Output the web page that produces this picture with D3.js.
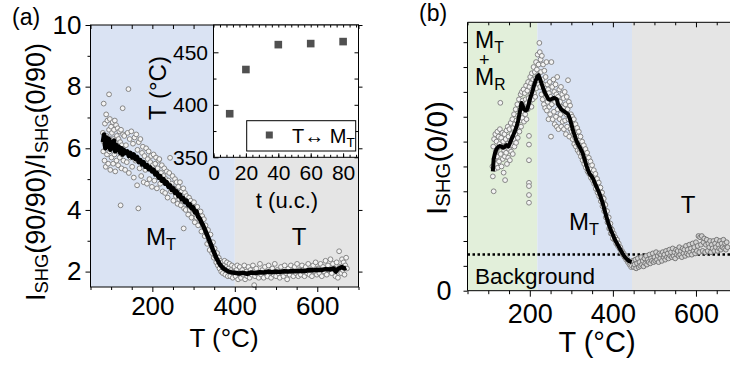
<!DOCTYPE html>
<html><head><meta charset="utf-8">
<script src="https://cdn.jsdelivr.net/npm/d3@7"></script>
<style>
body{margin:0;background:#fff}
svg{display:block}
text{font-family:"Liberation Sans",Arial,sans-serif;fill:#000}
</style>
</head><body>
<svg id="c" width="730" height="365"></svg>
<script>
// ---------------- DATA ----------------
// Panel (a): SHG ratio vs temperature (scatter + smoothed line)
const aScatter=[[80,6.5],[81,5.9],[82,7.45],[83,6.2],[84,5.6],[85,6.8],[86,6.1],[87,5.4],[88,7.1],[89,6.4],[90,5.8],[91,6.9],[92,6.2],[93,5.5],[95,7.75],[95,6.6],[96,5.9],[97,6.95],[98,5.3],[99,6.3],[100,6.7],[101,5.7],[102,6.5],[103,6.0],[104,6.85],[105,5.5],[106,6.3],[107,6.6],[108,5.8],[109,6.9],[110,5.25],[111,6.2],[112,6.75],[113,5.6],[114,6.4],[115,6.0],[116,6.65],[117,5.45],[118,6.3],[119,5.9],[120,6.55],[121,5.7],[122,6.2],[123,4.15],[124,6.6],[125,5.35],[126,6.1],[127,5.8],[128,7.3],[129,6.45],[130,5.6],
[132,6.4],[134,5.3],[136,6.1],[138,5.55],[140,6.5],[142,7.92],[143,5.2],[145,6.3],[147,5.7],[149,6.55],[151,5.4],[153,6.15],[155,5.05],[157,6.35],[159,5.6],[161,6.45],[163,4.8],[164,5.95],[166,4.05],[167,6.2],[169,5.35],[171,6.3],[173,5.1],[175,5.85],[177,6.05],[179,4.9],[181,5.75],[183,5.3],[185,6.0],[187,4.85],[189,5.65],[191,5.9],[193,5.0],[195,5.55],[197,5.75],[199,4.75],[201,5.45],[203,5.8],[205,4.95],[207,5.5],[209,5.7],[211,4.7],[213,5.35],[215,5.6],[217,5.65],[219,4.85],[221,5.2],[223,5.45],[225,4.6],[227,5.1],[229,5.35],[231,4.55],[233,5.0],[235,5.25],[237,4.4],[239,4.95],[241,5.2],[243,5.69],[245,4.6],[247,4.85],[249,5.1],[251,4.3],[253,4.7],[255,5.0],[257,4.45],[259,4.9],[261,4.2],
[263,4.75],[265,4.35],[267,4.9],[269,4.15],[271,4.6],[273,4.3],[275,4.7],[276,3.4],[277,4.05],[279,4.55],[281,4.0],[283,4.45],[285,4.25],[287,3.85],[289,4.4],[291,4.0],[293,4.3],[295,3.75],[297,4.2],[299,3.9],[301,4.25],[303,3.6],[305,4.0],[307,3.75],[309,4.1],[311,3.5],[313,3.9],[315,3.65],[317,3.95],[319,3.3],[321,3.8],[323,3.45],[325,3.7],[327,3.15],[329,3.5],[331,3.25],[333,2.9],[335,3.35],[337,3.0],[339,2.7],[341,3.2],[343,2.85],[345,2.6],[347,2.95],[349,2.45],[351,2.75],[353,2.5],[355,2.3],[357,2.6],[359,2.2],[361,2.45],[363,2.1],[365,2.35],[367,2.0],[369,2.3],[371,1.95],[373,2.2],[375,2.35],[377,1.9],[379,2.15],[381,2.3],[383,1.85],[385,2.1],[387,2.25],[389,1.85],[391,2.05],[393,2.2],[395,1.8],[397,2.0],[399,2.15],
[402,1.85],[404,2.05],[406,2.2],[408,1.75],[410,1.95],[412,2.15],[415,1.8],[418,2.05],[420,1.9],[423,2.2],[425,1.75],[428,2.0],[430,1.85],[433,2.15],[436,1.8],[438,2.05],[441,1.9],[444,2.2],[447,1.56],[449,1.85],[452,2.1],[455,1.95],[458,1.8],[461,2.25],[464,1.9],[467,2.05],[470,1.8],[473,2.15],[476,1.95],[479,1.85],[482,2.2],[485,2.0],[488,1.8],[491,2.1],[494,1.9],[497,2.25],[500,1.85],[503,2.05],[506,1.95],[509,1.8],[512,2.15],[515,2.0],[518,1.85],[521,2.2],[524,1.95],[527,1.75],[530,2.1],[533,1.9],[536,2.2],[539,2.0],[542,1.85],[545,2.15],[548,1.95],[551,2.25],[554,1.85],[557,2.05],[560,1.9],[563,2.2],[566,2.0],[569,1.85],[572,2.15],[575,1.95],[578,2.25],[581,1.9],[584,2.05],[587,1.85],[590,2.2],[593,2.0],[596,2.3],[599,1.9],[602,2.1],[605,1.95],[608,2.25],[611,1.85],[614,2.15],[617,2.0],[620,2.35],[623,1.9],[626,2.2],[629,2.05],[632,2.4],[635,1.95],[638,2.25],[641,2.1],[644,1.85],[647,2.3],[650,1.8],[653,2.66],[655,2.15],[658,1.95],[660,2.4],[662,2.05],[664,2.3],[666,1.9],[668,2.2],[670,2.45],[672,2.1]];
const aLine=[[80,6.2],[83,6.45],[86,6.0],[89,6.35],[92,6.05],[95,6.3],[98,5.95],[101,6.2],[104,6.0],[107,6.25],[110,5.9],[113,6.1],[116,5.95],[119,6.05],[122,5.85],[125,6.0],[128,5.8],[131,5.95],[135,5.85],[139,5.9],[143,5.75],[147,5.85],[151,5.7],[155,5.8],[159,5.65],[163,5.72],[167,5.55],[171,5.62],[175,5.48],[179,5.55],[183,5.4],[187,5.45],[191,5.32],[195,5.38],[199,5.25],[203,5.3],[207,5.15],[211,5.2],[215,5.05],[219,5.1],[223,4.95],[227,5.0],[231,4.85],[235,4.9],[239,4.75],[243,4.8],[247,4.65],[251,4.7],[255,4.55],[259,4.6],[263,4.45],[267,4.5],[271,4.35],[275,4.38],[279,4.25],[283,4.3],[287,4.15],[291,4.18],[295,4.05],[299,4.08],[303,3.92],[307,3.95],[311,3.78],[315,3.72],[319,3.6],[323,3.5],[327,3.38],[331,3.25],[335,3.12],[339,2.98],[343,2.85],[347,2.7],[351,2.58],[355,2.45],[359,2.35],[363,2.25],[367,2.18],[371,2.12],[375,2.08],[380,2.04],[385,2.0],[390,1.98],[400,1.96],[410,1.94],[420,1.96],[430,1.93],[440,1.97],[450,1.95],[460,1.98],[470,1.97],[480,2.0],[490,1.98],[500,2.0],[510,1.99],[520,2.01],[530,2.0],[540,2.02],[550,2.01],[560,2.03],[570,2.02],[580,2.05],[590,2.04],[600,2.06],[610,2.05],[620,2.08],[630,2.07],[640,2.1],[645,2.0],[650,2.08],[655,2.12],[660,2.15],[665,2.1],[670,2.13]];
const aRegions=[[50,400],[400,700]];
const aXMajor=[200,400,600], aXMinor=[50,100,150,250,300,350,450,500,550,650,700];
const aYMajor=[2,4,6,8,10], aYMinor=[3,5,7,9];

// Inset: transition temperature vs thickness
const insetThick=[10,20,40,60,80];
const insetTemp=[391.5,433.6,457.3,458.3,460.2];
const insetXMajor=[0,20,40,60,80];
const insetYMajor=[350,400,450], insetYMinor=[375,425];

// Panel (b): SHG(0/0) vs temperature
const bScatter=[[110,5.0],[111,4.6],[112,5.8],[113,4.0],[114,6.1],[115,5.3],[116,4.9],[117,6.3],[118,5.6],[119,5.1],[120,6.0],[121,5.4],[122,6.4],[123,4.95],[124,5.75],[125,6.2],[126,5.2],[127,5.9],[128,6.5],[129,7.56],[130,5.5],[131,6.15],[132,5.0],[133,5.8],[134,6.35],[135,5.3],[136,6.0],[137,4.75],[138,5.65],[139,6.3],[140,5.4],[140.5,4.45],[142,6.1],[143,5.55],[144,6.45],[145,5.1],[146,5.9],[147,6.6],[148,5.35],[149,6.2],[150,5.7],[151,6.5],[152,5.25],[153,6.05],[154,6.75],[155,5.6],[156,6.3],[157,5.85],[158,6.9],[159,5.5],[160,6.55],[161,6.1],[162,7.1],[163,5.8],[164,6.7],[165,6.3],[166,7.3],[167,5.95],[168,6.85],[169,6.45],[170,7.5],[171,6.15],[172,7.05],[173,6.6],[174,7.7],[175,6.4],[176,7.25],[177,6.85],[178,7.9],[179,6.6],[180,7.45],[181,8.0],[182,6.95],[183,7.65],[184,7.2],[185,8.1],[186,6.8],[187,7.5],[188,7.95],[189,7.1],[190,7.7],[191,8.25],[192,6.9],[193,7.55],[194,8.05],[195,7.3],[196,8.4],[197,7.75],[198,6.23],[198,5.88],[198,5.25],[198,4.34],[198,4.21],[198,3.85],[198,3.54],[199,8.2],[200,7.6],[201,8.6],[202,7.9],[203,8.35],[204,7.4],[205,8.75],[206,8.1],[207,7.7],[208,8.5],[209,9.0],[210,7.95],[211,8.3],[212,8.8],[213,7.8],[214,8.55],[215,9.2],[216,8.15],[217,8.9],[218,8.4],[219,9.5],[220,8.7],[221,9.1],[222,8.3],
[223,9.97],[224,9.6],[225,8.2],[226,9.3],[227,8.8],[228,7.9],[229,9.45],[230,8.5],[231,7.7],[232,9.1],[233,8.3],[234,7.5],[235,8.85],[236,8.0],[237,7.35],[238,8.6],[239,7.8],[240,9.2],[241,7.25],[242,8.3],[243,7.6],[244,8.1],[245,6.9],[246,7.95],[247,7.4],[248,8.4],[249,7.1],[250,7.8],[251,6.2],[252,9.2],[253,7.5],[254,8.2],[255,6.9],[256,7.7],[257,8.5],[258,7.2],[259,8.0],[260,6.7],[261,7.6],[262,8.3],[263,7.0],[264,7.9],[265,6.6],[266,8.6],[267,7.3],[268,7.8],[269,6.5],[270,7.5],[271,8.1],[272,6.9],[273,7.6],[274,7.1],[275,8.2],[276,6.6],[277,7.4],[278,7.9],[279,6.8],[280,7.35],[281,7.75],[282,6.5],[283,7.2],[284,8.0],[285,6.85],[286,7.5],[287,6.3],[288,7.1],[289,7.8],[290,6.6],[291,7.3],[292,8.47],[293,6.9],[294,7.6],[295,6.2],[296,7.0],[297,7.45],[298,6.5],[299,7.1],[300,6.8],
[301,6.4],[302,7.0],[303,6.1],[304,6.7],[305,6.3],[306,6.9],[307,5.9],[308,6.5],[309,6.15],[310,6.7],[311,5.8],[312,6.35],[313,6.0],[314,6.55],[315,5.65],[316,6.2],[317,5.85],[318,6.4],[319,5.55],[320,6.05],[321,5.7],[322,6.2],[323,5.4],[324,5.9],[325,5.55],[326,6.0],[327,5.25],[328,5.75],[329,5.4],[330,5.85],[331,5.1],[332,5.6],[333,5.25],[334,5.7],[335,4.95],[336,5.4],[337,5.1],[338,5.55],[339,4.8],[340,5.2],[341,4.95],[342,5.35],[343,4.7],[344,5.0],[345,4.85],[346,5.2],[347,4.55],[348,4.9],[349,4.7],[350,5.05],[351,4.45],[352,4.75],[353,4.55],[354,4.85],[355,4.3],[356,4.6],[357,4.4],[358,4.7],[359,4.1],[360,4.45],[361,4.25],[362,4.5],[363,3.95],[364,4.3],[365,4.05],[366,4.35],[367,3.8],[368,4.1],[369,3.9],[370,4.15],[371,3.6],[372,3.95],[373,3.7],[374,3.95],[375,3.4],[376,3.75],[377,3.5],[378,3.7],[379,3.2],[380,3.5],[381,3.25],[382,3.45],[383,2.95],[384,3.2],[385,3.0],[386,3.2],[387,2.75],[388,2.95],[389,2.75],[390,2.95],[391,2.5],[392,2.7],[393,2.5],[394,2.7],[395,2.3],[396,2.5],[397,2.3],[398,2.45],[400,2.1],[402,2.3],[404,2.05],[406,2.15],[408,1.9],[410,2.05],[412,1.8],[414,1.9],[416,1.7],[418,1.75],[420,1.55],[422,1.6],[424,1.45],[426,1.5],[428,1.35],[430,1.4],[432,1.25],[434,1.3],[436,1.15],[438,1.2],[440,1.05],[442,1.1],[444,0.95],[446,1.0],
[448,1.2],[450,0.95],[452,1.05],[454,1.25],[456,0.9],[458,1.1],[460,1.3],[462,0.95],[464,1.15],[466,1.0],[468,1.35],[470,1.05],[472,1.2],[474,0.98],[476,1.3],[478,1.1],[480,1.4],[482,1.05],[484,1.25],[486,1.15],[488,1.45],[490,1.1],[492,1.3],[494,1.2],[496,1.5],[498,1.15],[500,1.35],[502,1.2],[504,1.55],[506,1.25],[508,1.4],[510,1.15],[512,1.5],[514,1.3],[516,1.45],[518,1.2],[520,1.55],[522,1.35],[524,1.45],[526,1.25],[528,1.6],[530,1.35],[532,1.5],[534,1.3],[536,1.65],[538,1.4],[540,1.55],[542,1.35],[544,1.7],[546,1.4],[548,1.55],[550,1.3],[552,1.65],[554,1.45],[556,1.6],[558,1.4],[560,1.75],[562,1.45],[564,1.6],[566,1.35],[568,1.7],[570,1.5],[572,1.65],[574,1.4],[576,1.8],[578,1.5],[580,1.65],[582,1.45],[584,1.85],[586,1.55],[588,1.7],[590,1.45],[592,1.9],[594,1.6],[596,1.75],[598,1.5],[600,1.95],[602,1.6],[604,1.8],[606,2.2],[608,1.55],[610,2.15],[612,1.85],[614,2.2],[616,1.6],[618,1.95],[620,2.1],[622,1.55],[624,1.85],[626,2.05],[628,1.6],[630,1.9],[632,1.75],[634,2.0],[636,1.55],[638,1.85],[640,1.7],[642,2.0],[644,1.6],[646,1.9],[648,1.75],[650,2.05],[652,1.6],[654,1.85],[656,1.7],[658,2.0],[660,1.65],[662,1.9],[664,1.75],[666,2.05],[668,1.7],[670,1.9],[672,1.65],[674,1.95],[676,1.75]];
const bLine=[[111,4.8],[113,5.3],[116,5.52],[120,5.7],[124,5.78],[128,5.82],[132,5.8],[136,5.75],[140,5.8],[144,5.86],[148,5.8],[152,5.93],[156,6.1],[160,6.25],[164,6.42],[168,6.6],[172,6.85],[176,7.2],[180,7.55],[183,7.45],[186,7.3],[190,7.25],[194,7.3],[198,7.55],[202,7.8],[206,8.0],[210,8.25],[214,8.45],[218,8.62],[221,8.67],[225,8.5],[229,8.3],[233,8.1],[237,7.95],[241,7.82],[245,7.7],[249,7.68],[253,7.72],[257,7.75],[261,7.74],[265,7.7],[268,7.5],[272,7.4],[276,7.3],[280,7.25],[284,7.2],[288,7.15],[292,7.1],[296,6.95],[300,6.7],[304,6.45],[308,6.25],[312,6.05],[316,5.9],[320,5.78],[324,5.65],[328,5.5],[332,5.28],[336,5.05],[340,4.85],[344,4.7],[348,4.62],[352,4.52],[356,4.35],[360,4.2],[364,4.05],[368,3.9],[372,3.7],[376,3.5],[380,3.25],[384,3.0],[388,2.78],[392,2.58],[396,2.4],[400,2.25],[405,2.05],[410,1.9],[415,1.75],[420,1.6],[425,1.45],[430,1.33],[435,1.25],[440,1.18],[445,1.15]];
const bBackground=1.46;
const bRegions=[[50,218],[218,446],[446,700]];
const bXMajor=[200,400,600], bXMinor=[50,100,150,250,300,350,450,500,550,650,700];
const bYTicks=[0,1,2,3,4,5,6,7,8,9,10];

// ---------------- DRAW ----------------
const svg=d3.select("#c");
const FF='"Liberation Sans",Arial,sans-serif';

function rich(sel,parts,size,shift){
  parts.forEach((p,i)=>{
    const ts=sel.append("tspan").text(p[0]);
    if(p[1]){ts.attr("font-size",size*0.68).attr("dy",size*shift);}
    else if(i>0&&parts[i-1][1]){ts.attr("dy",-size*shift);}
  });
  return sel;
}
function styleAxis(g,fs){
  g.select(".domain").remove();
  g.selectAll("line").attr("stroke","#000").attr("stroke-width",1);
  g.selectAll("text").attr("font-size",fs).attr("font-family",FF).attr("fill","#000");
}

// ===== Panel (a) =====
const xA=d3.scaleLinear().domain([50,700]).range([90.5,358.5]);
const yA=d3.scaleLinear().domain([1.5,10]).range([287,25]);
const aColors=["#dae3f3","#e5e5e5"];
const gA=svg.append("g");
gA.selectAll("rect.bg").data(aRegions).join("rect")
  .attr("x",d=>xA(d[0])).attr("width",d=>xA(d[1])-xA(d[0]))
  .attr("y",yA(10)).attr("height",yA(1.5)-yA(10)).attr("fill",(d,i)=>aColors[i]);
gA.append("g").selectAll("circle").data(aScatter).join("circle")
  .attr("cx",d=>xA(d[0])).attr("cy",d=>yA(d[1])).attr("r",2.4)
  .attr("fill","#f4f4f4").attr("stroke","#858585").attr("stroke-width",1);
gA.append("path").datum(aLine).attr("fill","none").attr("stroke","#000").attr("stroke-width",4.5)
  .attr("stroke-linejoin","round").attr("d",d3.line().x(d=>xA(d[0])).y(d=>yA(d[1])));

styleAxis(gA.append("g").attr("transform","translate(0,287)").call(d3.axisBottom(xA).tickValues(aXMajor).tickSize(5).tickPadding(5).tickSizeOuter(0)),26);
styleAxis(gA.append("g").attr("transform","translate(0,287)").call(d3.axisBottom(xA).tickValues(aXMinor).tickSize(3).tickFormat("")),26);
styleAxis(gA.append("g").attr("transform","translate(90.5,0)").call(d3.axisLeft(yA).tickValues(aYMajor).tickSize(5).tickPadding(4)),26);
styleAxis(gA.append("g").attr("transform","translate(90.5,0)").call(d3.axisLeft(yA).tickValues(aYMinor).tickSize(3).tickFormat("")),26);
styleAxis(gA.append("g").attr("transform","translate(0,25)").call(d3.axisTop(xA).tickValues(aXMajor.concat(aXMinor)).tickSize(-4).tickFormat("")),26);
styleAxis(gA.append("g").attr("transform","translate(358.5,0)").call(d3.axisRight(yA).tickValues(aYMajor).tickSize(4).tickFormat("")),26);
gA.append("rect").attr("x",90.5).attr("y",25).attr("width",268).attr("height",262).attr("fill","none").attr("stroke","#000");

// Inset
const xI=d3.scaleLinear().domain([0,89.5]).range([213.5,358.5]);
const yI=d3.scaleLinear().domain([350,476]).range([157.3,25]);
const gI=svg.append("g");
gI.append("rect").attr("x",213.5).attr("y",25).attr("width",145).attr("height",132.3).attr("fill","#fff");
styleAxis(gI.append("g").attr("transform","translate(213.5,0)").call(d3.axisLeft(yI).tickValues(insetYMajor).tickSize(-5).tickPadding(5.5)),21);
styleAxis(gI.append("g").attr("transform","translate(213.5,0)").call(d3.axisLeft(yI).tickValues(insetYMinor).tickSize(-3).tickFormat("")),21);
styleAxis(gI.append("g").attr("transform","translate(358.5,0)").call(d3.axisRight(yI).tickValues(insetYMajor.concat(insetYMinor)).tickSize(-4).tickFormat("")),21);
styleAxis(gI.append("g").attr("transform","translate(0,157.3)").call(d3.axisBottom(xI).tickValues(insetXMajor).tickSize(-4).tickPadding(8)),21);
styleAxis(gI.append("g").attr("transform","translate(0,157.3)").call(d3.axisBottom(xI).tickValues(d3.range(0,90,4)).tickSize(-2.5).tickFormat("")),21);
styleAxis(gI.append("g").attr("transform","translate(0,25)").call(d3.axisTop(xI).tickValues(d3.range(0,90,4)).tickSize(-2.5).tickFormat("")),21);
gI.append("rect").attr("x",213.5).attr("y",25).attr("width",145).attr("height",132.3).attr("fill","none").attr("stroke","#000");
gI.selectAll("rect.pt").data(insetThick).join("rect").attr("class","pt")
  .attr("x",d=>xI(d)-3.8).attr("y",(d,i)=>yI(insetTemp[i])-3.8).attr("width",7.6).attr("height",7.6).attr("fill","#505050");
// legend
gI.append("rect").attr("x",246.7).attr("y",120.7).attr("width",109).attr("height",30.3).attr("fill","#fff").attr("stroke","#000");
gI.append("rect").attr("x",265.8).attr("y",131.5).attr("width",7).attr("height",7).attr("fill","#505050");
rich(gI.append("text").attr("x",292).attr("y",143).attr("font-size",20),[["T\u2194 M"],["T",1]],20,0.2);
gI.append("text").attr("transform","translate(166,88) rotate(-90)").attr("text-anchor","middle").attr("font-size",24).text("T (\u00B0C)");
gI.append("text").attr("x",287).attr("y",208).attr("text-anchor","middle").attr("font-size",22).text("t (u.c.)");

// Panel (a) labels
svg.append("text").attr("x",12).attr("y",25).attr("font-size",23).text("(a)");
rich(svg.append("text").attr("transform","translate(45,172) rotate(-90)").attr("text-anchor","middle").attr("font-size",27),
  [["I"],["SHG",1],["(90/90)/I"],["SHG",1],["(0/90)"]],27,0.12);
svg.append("text").attr("x",224).attr("y",347).attr("text-anchor","middle").attr("font-size",26).text("T (\u00B0C)");
rich(svg.append("text").attr("x",146).attr("y",245).attr("font-size",24),[["M"],["T",1]],24,0.22);
svg.append("text").attr("x",299).attr("y",245).attr("text-anchor","middle").attr("font-size",24).text("T");

// ===== Panel (b) =====
const xB=d3.scaleLinear().domain([50,700]).range([467.5,737.5]);
const yB=d3.scaleLinear().domain([0,10.8]).range([290.7,22.3]);
const bColors=["#e2efda","#dae3f3","#e5e5e5"];
const gB=svg.append("g");
gB.selectAll("rect.bg").data(bRegions).join("rect")
  .attr("x",d=>xB(d[0])).attr("width",d=>xB(d[1])-xB(d[0]))
  .attr("y",yB(10.8)).attr("height",yB(0)-yB(10.8)).attr("fill",(d,i)=>bColors[i]);
gB.append("line").attr("x1",xB(50)).attr("x2",xB(700)).attr("y1",yB(bBackground)).attr("y2",yB(bBackground))
  .attr("stroke","#000").attr("stroke-width",2.5).attr("stroke-dasharray","2.5,2.5");
gB.append("g").selectAll("circle").data(bScatter).join("circle")
  .attr("cx",d=>xB(d[0])).attr("cy",d=>yB(d[1])).attr("r",2.4)
  .attr("fill",d=>d[0]>446?"#d2d2d2":"#f4f4f4").attr("stroke",d=>d[0]>446?"#777":"#858585").attr("stroke-width",1);
gB.append("path").datum(bLine).attr("fill","none").attr("stroke","#000").attr("stroke-width",4)
  .attr("stroke-linejoin","round").attr("d",d3.line().x(d=>xB(d[0])).y(d=>yB(d[1])));

styleAxis(gB.append("g").attr("transform","translate(0,290.7)").call(d3.axisBottom(xB).tickValues(bXMajor).tickSize(6).tickPadding(7).tickSizeOuter(0)),27);
styleAxis(gB.append("g").attr("transform","translate(0,290.7)").call(d3.axisBottom(xB).tickValues(bXMinor).tickSize(3.5).tickFormat("")),27);
styleAxis(gB.append("g").attr("transform","translate(0,22.3)").call(d3.axisTop(xB).tickValues(bXMajor).tickSize(-5).tickFormat("")),27);
styleAxis(gB.append("g").attr("transform","translate(0,22.3)").call(d3.axisTop(xB).tickValues(bXMinor).tickSize(-3).tickFormat("")),27);
styleAxis(gB.append("g").attr("transform","translate(467.5,0)").call(d3.axisLeft(yB).tickValues(bYTicks).tickSize(4).tickPadding(12).tickFormat(d=>d===0?"0":"")),27);
gB.append("path").attr("d","M737.5,22.3H467.5V290.7H737.5").attr("fill","none").attr("stroke","#000");

svg.append("text").attr("x",419).attr("y",21).attr("font-size",23).text("(b)");
rich(svg.append("text").attr("transform","translate(447,158) rotate(-90)").attr("text-anchor","middle").attr("font-size",30),
  [["I"],["SHG",1],["(0/0)"]],30,0.1);
svg.append("text").attr("x",597).attr("y",352).attr("text-anchor","middle").attr("font-size",29).text("T (\u00B0C)");
// stacked phase label "M_T + M_R" as one text block
const phase=svg.append("text").attr("font-size",23);
phase.append("tspan").attr("x",475).attr("y",48).text("M");
phase.append("tspan").attr("font-size",15.6).attr("dy",5).text("T");
phase.append("tspan").attr("x",479).attr("y",66).attr("font-size",18).text("+");
phase.append("tspan").attr("x",475).attr("y",85).text("M");
phase.append("tspan").attr("font-size",15.6).attr("dy",5).text("R");
rich(svg.append("text").attr("x",569).attr("y",230).attr("font-size",24),[["M"],["T",1]],24,0.22);
svg.append("text").attr("x",688).attr("y",213).attr("text-anchor","middle").attr("font-size",24).text("T");
svg.append("text").attr("x",475).attr("y",283.5).attr("font-size",22.5).text("Background");
</script>
</body></html>
